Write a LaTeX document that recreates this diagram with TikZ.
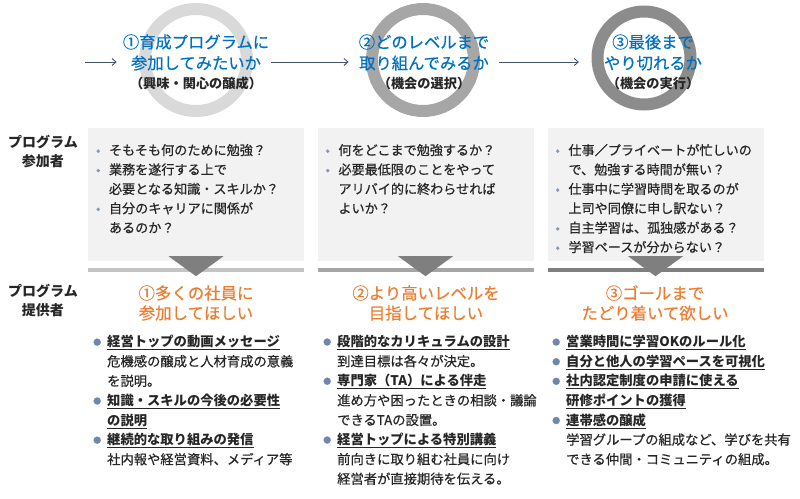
\documentclass[tikz,border=0pt]{standalone}
\usepackage{fontspec}
\setmainfont{Noto Sans CJK JP}[UprightFeatures={FakeBold=0.5}]
\usepackage{xcolor}
\usepackage{tikz}
\usetikzlibrary{positioning,calc,arrows.meta}

\definecolor{tblue}{HTML}{0070C0}
\definecolor{torange}{HTML}{ED7D31}
\definecolor{boxgray}{HTML}{F2F2F2}
\definecolor{arrowc}{HTML}{44546A}
\definecolor{ringa}{HTML}{D9D9D9}
\definecolor{ringb}{HTML}{A6A6A6}
\definecolor{ringc}{HTML}{8C8C8C}
\definecolor{linea}{HTML}{C4C4C4}
\definecolor{lineb}{HTML}{A6A6A6}
\definecolor{linec}{HTML}{7F7F7F}
\definecolor{tricol}{HTML}{7F7F7F}
\definecolor{qdot}{HTML}{8497B0}
\definecolor{adot}{HTML}{6D87AE}
\definecolor{bodyc}{HTML}{262626}

\newcommand{\qi}{\makebox[13pt][l]{\textcolor{qdot}{•}}}
\newcommand{\qc}{\hspace*{13pt}}
\newcommand{\ai}{\makebox[14pt][l]{\raisebox{1.5pt}{\textcolor{adot}{\fontsize{8}{8}\selectfont ●}}}}
\newcommand{\ac}{\hspace*{14pt}}
\newcommand{\ah}[1]{\underline{\textbf{#1}}}

\begin{document}
\begin{tikzpicture}[x=1pt,y=-1pt,
    ring/.style={draw=#1, line width=12pt, circle, minimum size=102pt, inner sep=0pt},
    ttl/.style={align=center, inner sep=0pt, text=tblue, font=\fontsize{16.3}{21}\selectfont},
    flow/.style={-{Straight Barb[length=4pt,width=7pt]}, draw=arrowc, line width=0.9pt},
    qbox/.style={fill=boxgray, minimum width=216pt, minimum height=133pt, inner sep=0pt},
    qtext/.style={anchor=north west, align=left, inner sep=0pt, text=bodyc, font=\fontsize{13.1}{19.4}\selectfont},
    bar/.style={fill=#1, minimum width=216pt, minimum height=4pt, inner sep=0pt},
    goal/.style={align=center, inner sep=0pt, text=torange, font=\fontsize{16.4}{20}\selectfont},
    atext/.style={anchor=north west, align=left, inner sep=0pt, text=bodyc, font=\fontsize{13.3}{19.6}\selectfont},
    role/.style={align=center, inner sep=0pt, text=bodyc, font=\bfseries\fontsize{14}{19}\selectfont}]
    \useasboundingbox (0,0) rectangle (800,498);

    % rings and stages
    \node[ring=ringa] (c1) at (196,60) {};
    \node[ring=ringb] (c2) at (423,60) {};
    \node[ring=ringc, minimum size=93pt] (c3) at (644,58) {};

    \node[ttl] (t1) at (196,62) {①育成プログラムに\\参加してみたいか\\[-2pt]\textcolor{bodyc}{\bfseries\fontsize{13.2}{15}\selectfont （興味・関心の醸成）}};
    \node[ttl] (t2) at (424,62) {②どのレベルまで\\取り組んでみるか\\[-2pt]\textcolor{bodyc}{\bfseries\fontsize{13.2}{15}\selectfont （機会の選択）}};
    \node[ttl] (t3) at (653,62) {③最後まで\\やり切れるか\\[-2pt]\textcolor{bodyc}{\bfseries\fontsize{13.2}{15}\selectfont （機会の実行）}};

    \coordinate (start) at (85,62);
    \draw[flow, shorten >=6pt] (start) -- (t1.west);
    \draw[flow, shorten <=2pt, shorten >=10pt] (t1) -- (t2);
    \draw[flow, shorten <=10pt, shorten >=25pt] (t2) -- (t3);

    % participants
    \node[role] (r1) at (43,152) {プログラム\\参加者};
    \foreach \n/\x/\c in {1/196/linea, 2/425.5/lineb, 3/655.5/linec} {
        \node[qbox] (q\n) at (\x,194.5) {};
        \node[bar=\c, below=7pt of q\n] (b\n) {};
        \fill[tricol] ($(q\n.south)+(-27.5,-5)$) -- ($(q\n.south)+(27.5,-5)$) -- ($(q\n.south)+(0,15)$) -- cycle;
    }
    \node[qtext] (p1) at ($(q1.north west)+(8,16)$) {\qi そもそも何のために勉強？\\
        \qi 業務を遂行する上で\\
        \qc 必要となる知識・スキルか？\\
        \qi 自分のキャリアに関係が\\
        \qc あるのか？};
    \node[qtext] (p2) at ($(q2.north west)+(8,16)$) {\qi 何をどこまで勉強するか？\\
        \qi 必要最低限のことをやって\\
        \qc アリバイ的に終わらせれば\\
        \qc よいか？};
    \node[qtext] (p3) at ($(q3.north west)+(8,16)$) {\qi 仕事／プライベートが忙しいの\\
        \qc で、勉強する時間が無い？\\
        \qi 仕事中に学習時間を取るのが\\
        \qc 上司や同僚に申し訳ない？\\
        \qi 自主学習は、孤独感がある？\\
        \qi 学習ペースが分からない？};

    % providers
    \node[role] (r2) at (43,301) {プログラム\\提供者};
    \node[goal] (g1) at (196,303) {①多くの社員に\\参加してほしい};
    \node[goal] (g2) at (426,303) {②より高いレベルを\\目指してほしい};
    \node[goal] (g3) at (655,303) {③ゴールまで\\たどり着いて欲しい};

    \node[atext] (a1) at (93,335) {\ai\ah{経営トップの動画メッセージ}\\
        \ac 危機感の醸成と人材育成の意義\\
        \ac を説明。\\
        \ai\ah{知識・スキルの今後の必要性}\\
        \ac\ah{の説明}\\
        \ai\ah{継続的な取り組みの発信}\\
        \ac 社内報や経営資料、メディア等};
    \node[atext] (a2) at (323,335) {\ai\ah{段階的なカリキュラムの設計}\\
        \ac 到達目標は各々が決定。\\
        \ai\ah{専門家（TA）による伴走}\\
        \ac 進め方や困ったときの相談・議論\\
        \ac できるTAの設置。\\
        \ai\ah{経営トップによる特別講義}\\
        \ac 前向きに取り組む社員に向け\\
        \ac 経営者が直接期待を伝える。};
    \node[atext] (a3) at (552,335) {\ai\ah{営業時間に学習OKのルール化}\\
        \ai\ah{自分と他人の学習ペースを可視化}\\
        \ai\ah{社内認定制度の申請に使える}\\
        \ac\ah{研修ポイントの獲得}\\
        \ai\ah{連帯感の醸成}\\
        \ac 学習グループの組成など、学びを共有\\
        \ac できる仲間・コミュニティの組成。};
\end{tikzpicture}
\end{document}
